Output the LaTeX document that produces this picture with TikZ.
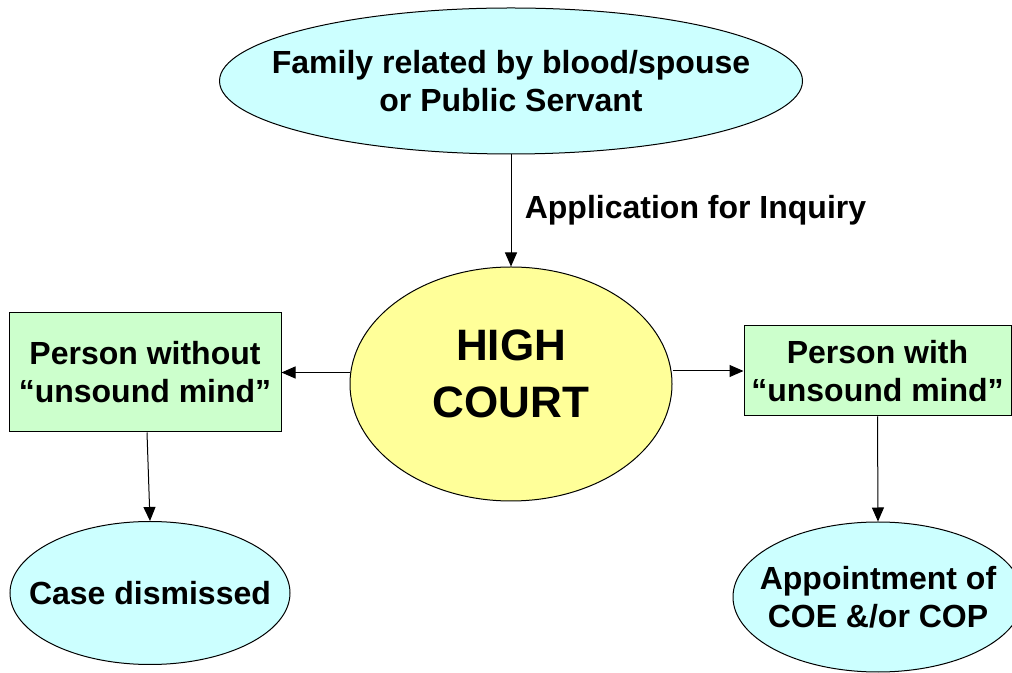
\documentclass[tikz,border=0pt]{standalone}
\usepackage{fontspec}
\setmainfont{Liberation Sans}
\usepackage{tikz}
\usetikzlibrary{shapes.geometric,arrows.meta}

\definecolor{bluefill}{HTML}{CCFFFF}
\definecolor{yellowfill}{HTML}{FFFF99}
\definecolor{greenfill}{HTML}{CCFFCC}

\tikzset{
  oval/.style={ellipse,draw=black,line width=1pt,inner sep=0pt,align=center,
    font=\fontsize{32}{37.5}\selectfont\bfseries},
  party/.style={oval,fill=bluefill},
  court/.style={oval,fill=yellowfill},
  outcome/.style={rectangle,draw=black,line width=1pt,fill=greenfill,align=center,
    font=\fontsize{32}{38}\selectfont\bfseries},
  link/.style={-{Triangle[length=14pt,width=12pt]},line width=1pt}
}

\begin{document}
\begin{tikzpicture}[x=1pt,y=1pt]
\useasboundingbox (0,0) rectangle (1012,672);
\clip (0,0) rectangle (1012,672);
% nodes
\node (family) [party,inner xsep=-40pt,minimum width=583pt,minimum height=146pt] at (511,591)
  {Family related by blood/spouse\\or Public Servant};
\node (court) [court,minimum width=322pt,minimum height=234pt,
  label={[font=\fontsize{44}{57}\selectfont\bfseries,align=center,yshift=10pt]center:HIGH\\COURT}]
  at (511,288) {};
\node (without) [outcome,minimum width=272pt,minimum height=119pt] at (145,299.5)
  {Person without\\``unsound mind''};
\node (with) [outcome,minimum width=267pt,minimum height=90pt] at (877.5,301)
  {Person with\\``unsound mind''};
\node (dismiss) [party,inner xsep=-30pt,minimum width=280pt,minimum height=143pt] at (150,79)
  {Case dismissed};
\node (appoint) [party,inner xsep=-25pt,minimum width=290pt,minimum height=150pt] at (878,75)
  {Appointment of\\COE \&/or COP};
% connectors
\draw[link] (family.south) -- node[right=10pt,font=\fontsize{32}{37}\selectfont\bfseries]
  {Application for Inquiry} (court.north);
\draw[link] (court.west |- without.east) -- (without.east);
\draw[link] (court.east |- with.west) -- (with.west);
\draw[link] ([xshift=2pt]without.south) -- (dismiss.north);
\draw[link] (with.south) -- (appoint.north);
\end{tikzpicture}
\end{document}
